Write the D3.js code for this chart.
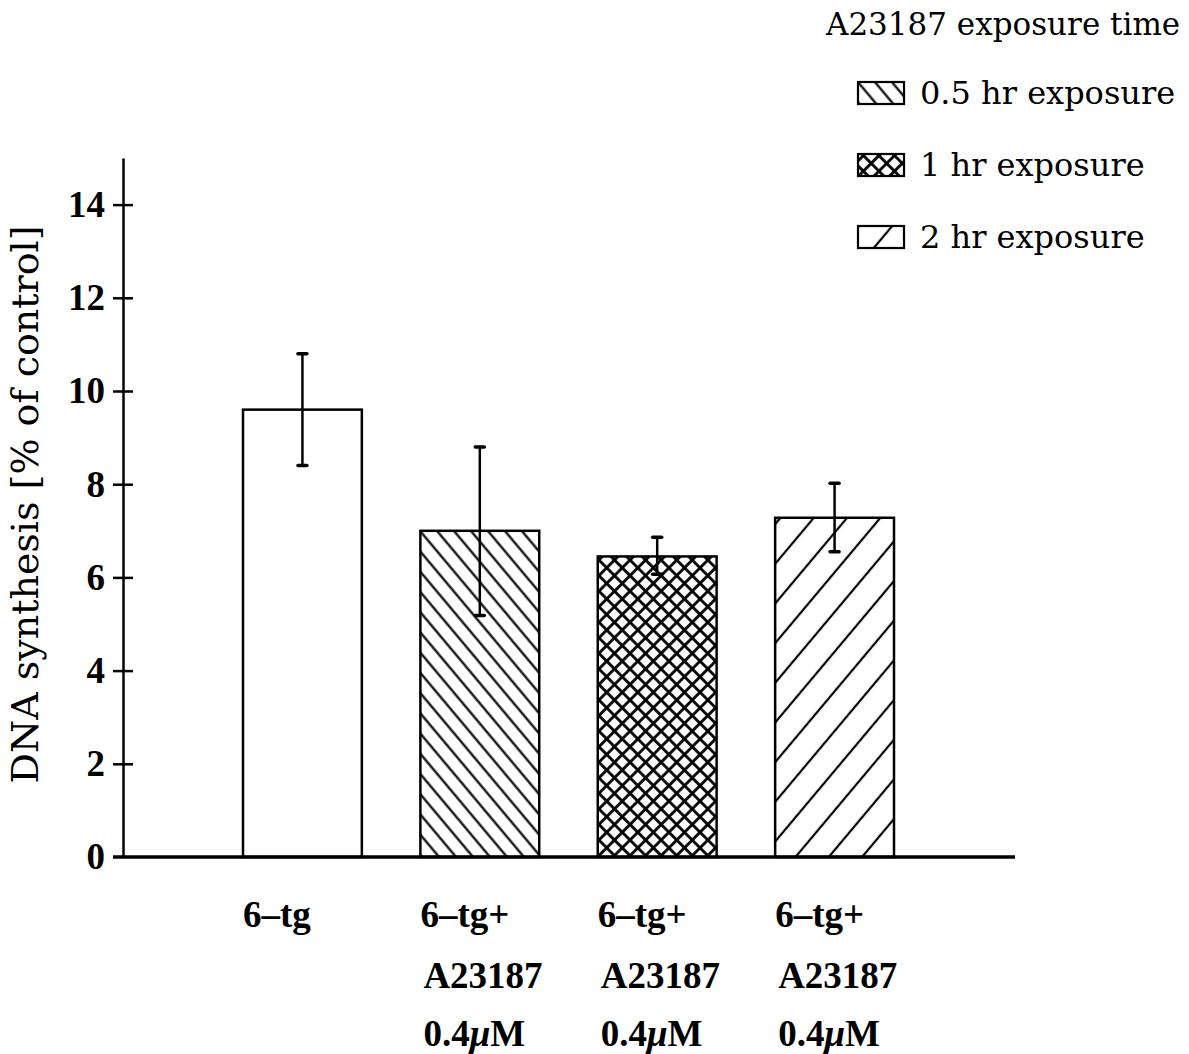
<!DOCTYPE html>
<html>
<head>
<meta charset="utf-8">
<script src="https://cdn.jsdelivr.net/npm/d3@7"></script>
<style>
  html, body { margin: 0; padding: 0; background: #fff; }
  svg { display: block; }
</style>
</head>
<body>
<script>
// ---- data ----
const categories = ["6-tg", "6-tg+A23187 0.5hr", "6-tg+A23187 1hr", "6-tg+A23187 2hr"];
const labelLines = [["6-tg"], ["6-tg+", "A23187", "0.4μM"], ["6-tg+", "A23187", "0.4μM"], ["6-tg+", "A23187", "0.4μM"]];
const means = [9.6, 7.0, 6.45, 7.28];
const errLow = [8.4, 5.18, 6.07, 6.55];
const errHigh = [10.8, 8.8, 6.86, 8.02];
const fillKinds = ["plain", "hatch05", "cross", "hatch2"];
const yTicks = [0, 2, 4, 6, 8, 10, 12, 14];
const legendTitle = "A23187 exposure time";
const legendLabels = ["0.5 hr exposure", "1 hr exposure", "2 hr exposure"];
const legendKinds = ["hatch05", "cross", "hatch2"];
const yLabel = "DNA synthesis [% of control]";

// ---- layout ----
const W = 1189, H = 1054;
const svg = d3.select("body").append("svg").attr("width", W).attr("height", H);

const y = d3.scaleLinear().domain([0, 15]).range([857, 158]);
const x = d3.scaleBand().domain(categories).range([243, 894]).paddingInner(0.33).paddingOuter(0);

// ---- patterns ----
const defs = svg.append("defs");
function linePattern(id, spacing, angle, sw) {
  const p = defs.append("pattern").attr("id", id)
    .attr("patternUnits", "userSpaceOnUse")
    .attr("width", spacing).attr("height", spacing)
    .attr("patternTransform", `rotate(${angle})`);
  p.append("rect").attr("width", spacing).attr("height", spacing).attr("fill", "#fff");
  p.append("line").attr("x1", spacing / 2).attr("x2", spacing / 2)
    .attr("y1", -1).attr("y2", spacing + 1)
    .attr("stroke", "#000").attr("stroke-width", sw);
}
linePattern("hatch05", 13.0, -40, 2.2);
linePattern("hatch2", 25.5, 40, 2.2);
(function () {
  const s = 11;
  const p = defs.append("pattern").attr("id", "cross")
    .attr("patternUnits", "userSpaceOnUse")
    .attr("width", s).attr("height", s)
    .attr("patternTransform", "rotate(45)");
  p.append("rect").attr("width", s).attr("height", s).attr("fill", "#fff");
  p.append("line").attr("x1", s / 2).attr("x2", s / 2).attr("y1", -1).attr("y2", s + 1)
    .attr("stroke", "#000").attr("stroke-width", 2.8);
  p.append("line").attr("y1", s / 2).attr("y2", s / 2).attr("x1", -1).attr("x2", s + 1)
    .attr("stroke", "#000").attr("stroke-width", 2.8);
})();
const fillOf = k => k === "plain" ? "#fff" : `url(#${k})`;

// ---- bars ----
svg.append("g").selectAll("rect").data(categories).join("rect")
  .attr("x", d => x(d))
  .attr("y", (d, i) => y(means[i]))
  .attr("width", x.bandwidth())
  .attr("height", (d, i) => y(0) - y(means[i]))
  .attr("fill", (d, i) => fillOf(fillKinds[i]))
  .attr("stroke", "#000").attr("stroke-width", 2.5);

// ---- error bars ----
const eg = svg.append("g").attr("stroke", "#000");
categories.forEach((c, i) => {
  const cx = x(c) + x.bandwidth() / 2;
  eg.append("line").attr("x1", cx).attr("x2", cx)
    .attr("y1", y(errLow[i])).attr("y2", y(errHigh[i])).attr("stroke-width", 2.5);
  [errLow[i], errHigh[i]].forEach(v => {
    eg.append("line").attr("x1", cx - 4.5).attr("x2", cx + 4.5)
      .attr("y1", y(v)).attr("y2", y(v)).attr("stroke-width", 3.5).attr("stroke-linecap", "round");
  });
});

// ---- y axis ----
const yAxis = svg.append("g").attr("transform", "translate(123,0)")
  .call(d3.axisLeft(y).tickValues(yTicks).tickSizeInner(10).tickSizeOuter(0).tickPadding(8).tickFormat(d3.format("d")));
yAxis.select(".domain").attr("stroke-width", 2.5);
yAxis.selectAll(".tick line").attr("x1", 10).attr("x2", -10).attr("stroke-width", 2.5);
yAxis.selectAll(".tick text")
  .attr("font-family", "'Liberation Serif', serif").attr("font-weight", "bold")
  .attr("font-size", 37).attr("fill", "#000");
yAxis.selectAll(".tick").filter(d => d === 0).select("line").remove();

// baseline
svg.append("line").attr("x1", 113).attr("x2", 1015)
  .attr("y1", y(0)).attr("y2", y(0)).attr("stroke", "#000").attr("stroke-width", 3.5);

// y label
svg.append("text")
  .attr("transform", `translate(38,${(y(0) + y(15)) / 2 - 3}) rotate(-90)`)
  .attr("text-anchor", "middle")
  .attr("font-family", "'DejaVu Serif', serif").attr("font-size", 38)
  .text(yLabel);

// ---- x labels ----
const lineBase = [927, 988, 1046];
const lineDx = [0, 3, 3];
const xl = svg.append("g").attr("font-family", "'Liberation Serif', serif")
  .attr("font-weight", "bold").attr("font-size", 37);
categories.forEach((c, i) => {
  labelLines[i].forEach((t, j) => {
    const tx = xl.append("text").attr("x", x(c) + lineDx[j]).attr("y", lineBase[j]);
    const parts = t.split("μ");
    if (parts.length > 1) {
      tx.append("tspan").text(parts[0]);
      tx.append("tspan").attr("font-style", "italic").text("μ");
      tx.append("tspan").text(parts[1]);
    } else {
      tx.text(t.replace("-", "\u2013"));
    }
  });
});

// ---- legend ----
const lg = svg.append("g").attr("font-family", "'DejaVu Serif', serif").attr("font-size", 31);
lg.append("text").attr("x", 826).attr("y", 35).text(legendTitle);
const rowBase = [104, 176, 248];
legendLabels.forEach((t, i) => {
  lg.append("rect").attr("x", 858).attr("y", rowBase[i] - 22).attr("width", 46).attr("height", 22)
    .attr("fill", fillOf(legendKinds[i])).attr("stroke", "#000").attr("stroke-width", 2.2);
  lg.append("text").attr("x", 920).attr("y", rowBase[i]).attr("font-size", 32).text(t);
});
</script>
</body>
</html>
